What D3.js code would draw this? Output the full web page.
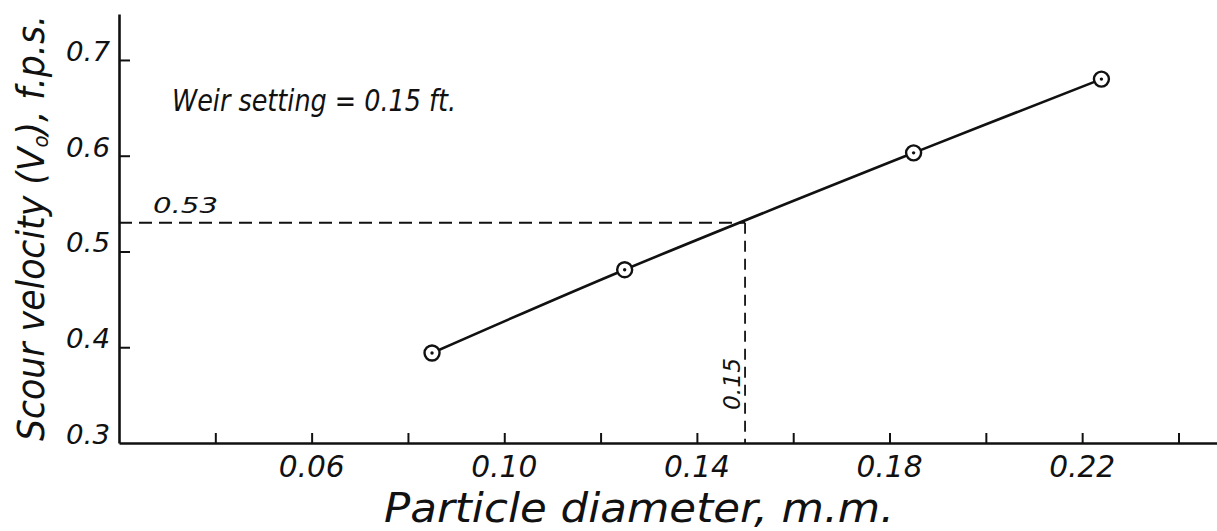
<!DOCTYPE html>
<html>
<head>
<meta charset="utf-8">
<script src="https://cdn.jsdelivr.net/npm/d3@7"></script>
<style>
  body { margin: 0; background: #fff; }
  svg { display: block; }
  text { font-family: "DejaVu Sans", sans-serif; font-style: italic; fill: #111; }
</style>
</head>
<body>
<svg width="1217" height="531"></svg>
<script>
// data
var diameters = [0.085, 0.125, 0.185, 0.224];
var velocities = [0.394, 0.481, 0.603, 0.680];
var xTicks = [0.04, 0.06, 0.08, 0.10, 0.12, 0.14, 0.16, 0.18, 0.20, 0.22, 0.24];
var xLabels = ["0.06", "0.10", "0.14", "0.18", "0.22"];
var yTicks = [0.4, 0.5, 0.6, 0.7];
var yLabels = ["0.3", "0.4", "0.5", "0.6", "0.7"];
var refX = 0.15, refY = 0.53;

var svg = d3.select('svg');
var x = d3.scaleLinear().domain([0.02, 0.248]).range([119, 1217]);
var y = d3.scaleLinear().domain([0.3, 0.748]).range([443, 14]);
var ink = '#111';

// x axis, ticks pointing up
var gx = svg.append('g').attr('transform', 'translate(0,' + y(0.3) + ')')
  .call(d3.axisBottom(x).tickValues(xTicks).tickSizeInner(-10).tickSizeOuter(0).tickFormat(''));
gx.select('.domain').attr('stroke', ink).attr('stroke-width', 2.6);
gx.selectAll('.tick line').attr('stroke', ink).attr('stroke-width', 2);

// y axis, ticks pointing right
var gy = svg.append('g').attr('transform', 'translate(' + x(0.02) + ',0)')
  .call(d3.axisLeft(y).tickValues(yTicks).tickSizeInner(-11).tickSizeOuter(0).tickFormat(''));
gy.select('.domain').attr('stroke', ink).attr('stroke-width', 2.6);
gy.selectAll('.tick line').attr('stroke', ink).attr('stroke-width', 2);

// tick labels
svg.selectAll('.xlab').data(xLabels).enter().append('text')
  .attr('x', function(d) { return x(+d); })
  .attr('y', 477)
  .attr('text-anchor', 'middle')
  .attr('font-size', 30)
  .attr('textLength', 66).attr('lengthAdjust', 'spacingAndGlyphs')
  .text(function(d) { return d; });

svg.selectAll('.ylab').data(yLabels).enter().append('text')
  .attr('x', 110)
  .attr('y', function(d) { return y(+d) + 1; })
  .attr('text-anchor', 'end')
  .attr('font-size', 27)
  .attr('textLength', 44).attr('lengthAdjust', 'spacingAndGlyphs')
  .text(function(d) { return d; });

// dashed reference lines
svg.append('line')
  .attr('x1', x(0.02)).attr('x2', x(refX))
  .attr('y1', y(refY)).attr('y2', y(refY))
  .attr('stroke', ink).attr('stroke-width', 1.8).attr('stroke-dasharray', '13,7');
svg.append('line')
  .attr('x1', x(refX)).attr('x2', x(refX))
  .attr('y1', y(refY)).attr('y2', y(0.3))
  .attr('stroke', ink).attr('stroke-width', 1.8).attr('stroke-dasharray', '11,7');

svg.append('text')
  .attr('x', 153).attr('y', 213)
  .attr('font-size', 22).attr('textLength', 65).attr('lengthAdjust', 'spacingAndGlyphs')
  .text('0.53');
svg.append('text')
  .attr('transform', 'translate(740,410) rotate(-90)')
  .attr('font-size', 23).attr('textLength', 52).attr('lengthAdjust', 'spacingAndGlyphs')
  .text('0.15');

// data curve
var pts = diameters.map(function(d, i) { return [d, velocities[i]]; });
var line = d3.line()
  .x(function(d) { return x(d[0]); })
  .y(function(d) { return y(d[1]); })
  .curve(d3.curveCatmullRom.alpha(0.5));
svg.append('path').datum(pts)
  .attr('d', line).attr('fill', 'none').attr('stroke', ink).attr('stroke-width', 2.6);

var mk = svg.selectAll('.pt').data(pts).enter().append('g')
  .attr('transform', function(d) { return 'translate(' + x(d[0]) + ',' + y(d[1]) + ')'; });
mk.append('circle').attr('r', 7.5).attr('fill', '#fff').attr('stroke', ink).attr('stroke-width', 2.4);
mk.append('circle').attr('r', 1.7).attr('fill', ink);

// titles
svg.append('text')
  .attr('x', 172).attr('y', 111)
  .attr('font-size', 30)
  .attr('textLength', 284).attr('lengthAdjust', 'spacingAndGlyphs')
  .text('Weir setting = 0.15 ft.');

svg.append('text')
  .attr('x', 384).attr('y', 522)
  .attr('font-size', 40)
  .attr('textLength', 510).attr('lengthAdjust', 'spacingAndGlyphs')
  .text('Particle diameter, m.m.');

var yt = svg.append('text')
  .attr('transform', 'translate(44,441) rotate(-90)')
  .attr('font-size', 37)
  .attr('textLength', 426).attr('lengthAdjust', 'spacingAndGlyphs');
yt.append('tspan').text('Scour velocity (V');
yt.append('tspan').attr('font-size', 21).attr('baseline-shift', '-4').text('o');
yt.append('tspan').text('), f.p.s.');
</script>
</body>
</html>
